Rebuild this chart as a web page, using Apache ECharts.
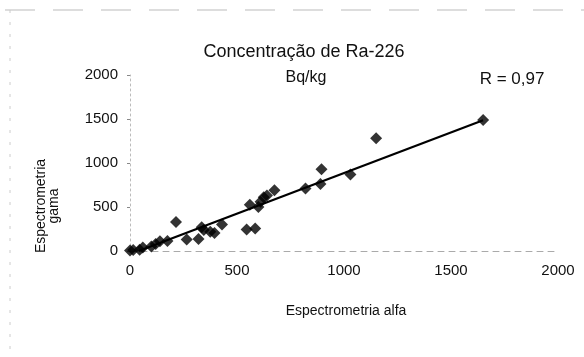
<!DOCTYPE html>
<html>
<head>
<meta charset="utf-8">
<script src="https://cdn.jsdelivr.net/npm/echarts@6/dist/echarts.min.js"></script>
<style>html,body{margin:0;padding:0;background:#fff}#c{width:584px;height:357px}</style>
</head>
<body>
<div id="c"></div>
<script>
// Data
var alfa = [0, 15, 45, 60, 100, 120, 140, 175, 215, 265, 320, 335, 345, 375, 395, 430, 545, 585, 560, 600, 610, 625, 640, 675, 820, 890, 895, 1030, 1150, 1650];
var gama = [5, 10, 15, 40, 50, 80, 110, 115, 330, 130, 135, 270, 240, 220, 205, 300, 245, 255, 525, 500, 560, 610, 630, 690, 710, 760, 930, 870, 1280, 1490];
var trendX = [40, 1650];
var trendY = [0, 1485];
var xTicks = [0, 500, 1000, 1500, 2000];
var yTicks = [0, 500, 1000, 1500, 2000];
var titleText = 'Concentração de Ra-226';
var unitText = 'Bq/kg';
var rText = 'R = 0,97';
var xName = 'Espectrometria alfa';
var yName = 'Espectrometria\ngama';

var pts = alfa.map(function (x, i) { return [x, gama[i]]; });
var line = trendX.map(function (x, i) { return [x, trendY[i]]; });
var F = '"Liberation Sans", Arial, sans-serif';
function plain(v) { return String(v); }

var chart = echarts.init(document.getElementById('c'), null, {renderer: 'canvas'});
chart.setOption({
  animation: false,
  backgroundColor: '#fff',
  grid: {left: 130, right: 26, top: 75, bottom: 106},
  xAxis: {
    type: 'value', min: xTicks[0], max: xTicks[xTicks.length - 1], interval: 500,
    axisLine: {show: true, lineStyle: {color: '#aaa', width: 1, type: [6, 5]}},
    axisTick: {show: false},
    splitLine: {show: false},
    axisLabel: {color: '#111', fontFamily: F, fontSize: 15, margin: 12, formatter: plain}
  },
  yAxis: {
    type: 'value', min: yTicks[0], max: yTicks[yTicks.length - 1], interval: 500,
    axisLine: {show: true, lineStyle: {color: '#bbb', width: 1, type: [2, 3]}},
    axisTick: {show: true, length: 3, lineStyle: {color: '#888'}},
    splitLine: {show: false},
    axisLabel: {color: '#111', fontFamily: F, fontSize: 15, margin: 12, formatter: plain}
  },
  series: [
    {
      type: 'line', data: line, showSymbol: false, symbol: 'none',
      lineStyle: {color: '#000', width: 2.2}, z: 3
    },
    {
      type: 'scatter', data: pts, symbol: 'diamond', symbolSize: 12,
      itemStyle: {color: '#000'}, z: 4
    }
  ],
  graphic: [
    {type: 'text', style: {text: titleText, x: 304, y: 52, align: 'center', verticalAlign: 'middle', font: '18px ' + F, fill: '#111'}},
    {type: 'text', style: {text: unitText, x: 306, y: 78, align: 'center', verticalAlign: 'middle', font: '16px ' + F, fill: '#111'}},
    {type: 'text', style: {text: rText, x: 512, y: 79, align: 'center', verticalAlign: 'middle', font: '17px ' + F, fill: '#111'}},
    {type: 'text', style: {text: xName, x: 346, y: 311, align: 'center', verticalAlign: 'middle', font: '14px ' + F, fill: '#111'}},
    {type: 'text', rotation: Math.PI / 2, x: 48, y: 206, style: {text: yName, x: 0, y: 0, align: 'center', verticalAlign: 'middle', font: '14px ' + F, fill: '#111', lineHeight: 13}},
    {type: 'line', shape: {x1: 5, y1: 10, x2: 584, y2: 10}, style: {stroke: '#bbb', lineWidth: 1, lineDash: [30, 18]}},
    {type: 'line', shape: {x1: 10, y1: 10, x2: 10, y2: 357}, style: {stroke: '#ccc', lineWidth: 1, lineDash: [3, 9]}}
  ]
});
</script>
</body>
</html>
